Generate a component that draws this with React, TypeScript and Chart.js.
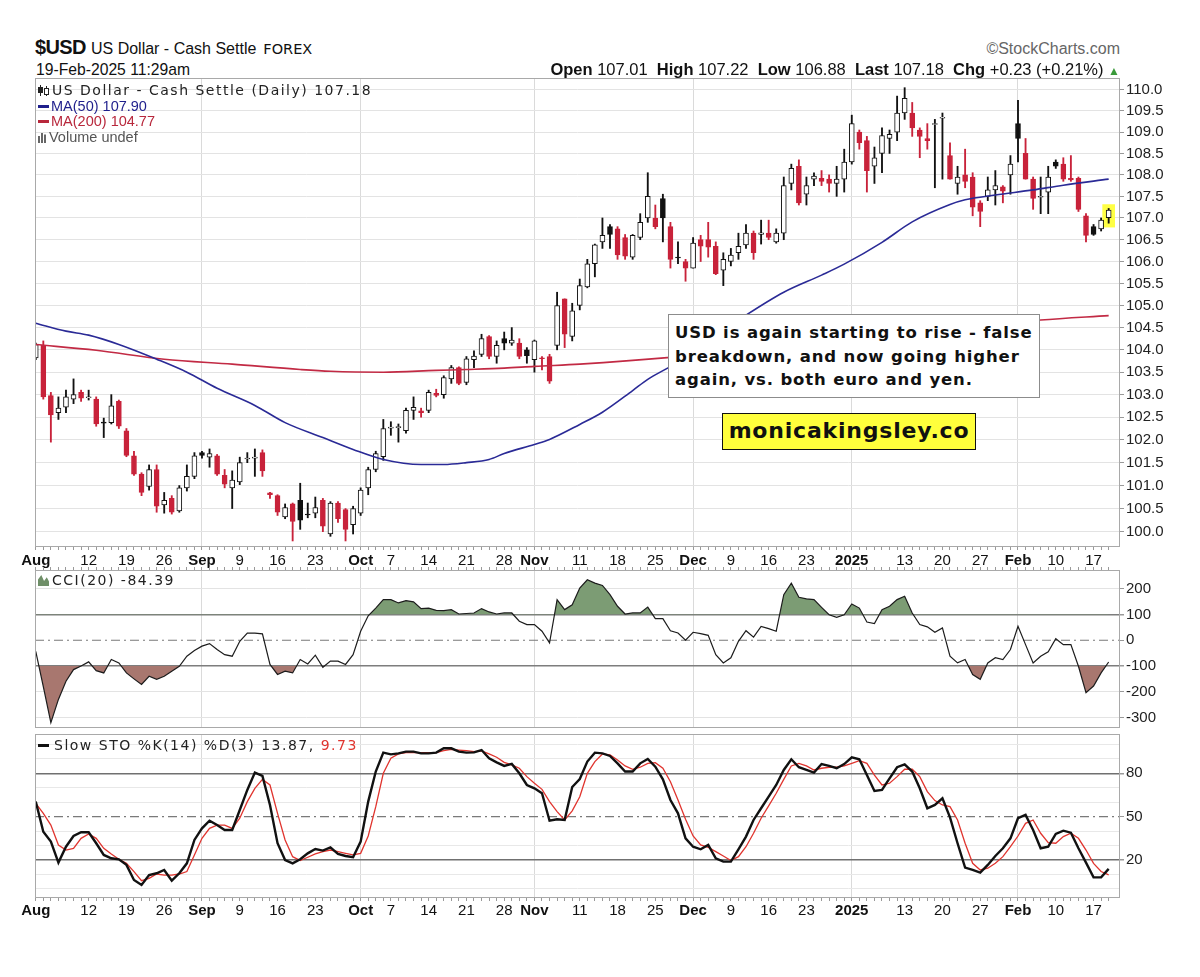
import React, { useEffect, useRef } from "react";
import { Chart, registerables } from "chart.js";

Chart.register(...registerables);

// ---------------- DATA ----------------
// Daily candles, 1-Aug-2024 .. 19-Feb-2025 (weekdays, 25-Dec and 1-Jan not traded)
const openP = [
  103.82, 104.1, 102.98, 102.6, 102.72, 102.9, 103.05, 102.93, 102.9, 102.39,
  102.38, 102.85, 102.2, 101.65, 101.25, 100.98, 101.35, 100.58, 100.72, 100.45,
  100.95, 101.2, 101.72, 101.62, 101.65, 101.22, 100.95, 101.08, 101.58, 101.6,
  101.72, 100.84, 100.78, 100.32, 100.6, 100.68, 100.38, 100.4, 100.68, 99.95,
  100.62, 100.48, 100.15, 100.4, 100.95, 101.35, 101.63, 102.26, 102.27, 102.2,
  102.65, 102.64, 102.65, 103.03, 103.0, 103.35, 103.6, 103.27, 103.78, 103.9,
  104.3, 103.85, 104.25, 104.15, 104.15, 104.0, 103.78, 103.82, 103.85, 104.1,
  105.15, 104.3, 105.0, 105.42, 105.95, 106.45, 106.8, 106.75, 106.55, 106.1,
  106.55, 107.0, 107.0, 107.45, 106.8, 106.1, 106.0, 105.85, 106.5, 106.5,
  106.35, 105.8, 106.0, 106.2, 106.38, 106.65, 106.62, 106.65, 106.45, 106.65,
  107.8, 108.2, 107.55, 107.9, 107.92, 107.9, 107.8, 107.9, 108.3, 109.0,
  108.8, 108.2, 108.5, 108.85, 109.0, 109.45, 109.45, 109.05, 108.85, 109.18,
  109.33, 108.45, 107.8, 108.0, 107.95, 107.35, 107.5, 107.65, 107.72, 108.0,
  109.2, 108.5, 107.9, 107.48, 107.6, 108.3, 108.25, 107.92, 107.92, 107.05,
  106.8, 106.75, 107.01,
];
const highP = [
  104.15, 104.2, 103.05, 102.95, 103.1, 103.35, 103.1, 103.1, 102.95, 102.48,
  103.0, 102.88, 102.25, 101.75, 101.28, 101.45, 101.45, 100.85, 100.78, 101.0,
  101.45, 101.72, 101.75, 101.8, 101.68, 101.35, 101.32, 101.62, 101.72, 101.8,
  101.78, 100.85, 100.8, 100.6, 100.62, 101.05, 100.62, 100.75, 100.72, 100.65,
  100.65, 100.5, 100.55, 100.95, 101.4, 101.75, 102.45, 102.4, 102.35, 102.7,
  102.95, 102.7, 103.1, 103.12, 103.42, 103.65, 103.62, 103.85, 103.98, 104.35,
  104.32, 104.2, 104.4, 104.5, 104.25, 104.05, 104.22, 103.85, 103.9, 105.3,
  105.15, 105.05, 105.6, 106.05, 106.4, 107.0, 106.85, 106.8, 106.62, 106.62,
  107.1, 108.05, 107.3, 107.55, 106.9, 106.45, 106.05, 106.55, 106.6, 106.9,
  106.45, 106.2, 106.3, 106.65, 106.85, 106.7, 106.95, 106.95, 106.75, 107.95,
  108.25, 108.35, 107.95, 108.05, 108.1, 108.0, 108.2, 108.6, 109.4, 109.05,
  108.9, 108.65, 109.1, 109.05, 109.85, 110.05, 109.7, 109.1, 109.2, 109.3,
  109.45, 108.75, 108.2, 108.6, 108.05, 107.4, 107.95, 108.1, 107.75, 108.45,
  109.75, 108.85, 107.95, 107.95, 108.2, 108.35, 108.4, 108.45, 107.95, 107.1,
  106.85, 107.0, 107.22,
];
const lowP = [
  103.78, 102.9, 101.95, 102.45, 102.6, 102.8, 102.85, 102.88, 102.3, 102.05,
  102.35, 102.25, 101.63, 101.22, 100.78, 100.9, 100.42, 100.4, 100.38, 100.42,
  100.88, 101.15, 101.6, 101.4, 101.22, 100.95, 100.5, 101.02, 101.5, 101.2,
  101.2, 100.72, 100.35, 100.28, 99.8, 100.05, 100.3, 100.3, 100.0, 99.9,
  100.2, 99.8, 99.95, 100.35, 100.8, 101.3, 101.55, 102.1, 101.95, 102.15,
  102.45, 102.5, 102.6, 102.95, 102.92, 103.25, 103.22, 103.22, 103.6, 103.85,
  103.8, 103.7, 104.0, 104.1, 103.8, 103.7, 103.5, 103.55, 103.25, 104.0,
  104.05, 104.2, 104.9, 105.4, 105.65, 106.3, 106.3, 106.05, 106.05, 106.05,
  106.5, 106.9, 106.75, 106.45, 105.85, 105.95, 105.55, 105.85, 106.0, 106.1,
  105.7, 105.45, 105.9, 106.05, 106.3, 106.05, 106.4, 106.5, 106.42, 106.5,
  107.65, 107.3, 107.3, 107.75, 107.75, 107.6, 107.5, 107.6, 108.25, 108.6,
  107.6, 107.8, 108.05, 108.5, 108.8, 109.3, 108.9, 108.4, 108.6, 107.7,
  107.9, 107.9, 107.55, 107.7, 107.05, 106.8, 107.4, 107.3, 107.35, 107.55,
  108.3, 107.9, 107.2, 107.1, 107.1, 108.15, 107.85, 107.85, 107.15, 106.45,
  106.6, 106.7, 106.88,
];
const closeP = [
  104.12, 102.95, 102.55, 102.7, 102.95, 103.0, 102.92, 102.95, 102.35, 102.37,
  102.75, 102.3, 101.66, 101.25, 100.85, 101.35, 100.55, 100.68, 100.42, 100.95,
  101.2, 101.65, 101.66, 101.7, 101.25, 101.03, 101.12, 101.5, 101.6, 101.62,
  101.32, 100.8, 100.42, 100.52, 100.22, 100.25, 100.36, 100.52, 100.12, 100.62,
  100.28, 100.05, 100.5, 100.9, 101.35, 101.7, 102.25, 102.28, 102.29, 102.65,
  102.72, 102.6, 103.05, 102.98, 103.38, 103.6, 103.25, 103.8, 103.86, 104.25,
  103.85, 104.1, 104.15, 104.22, 103.85, 103.87, 104.2, 103.8, 103.3, 105.0,
  104.35, 104.88, 105.45, 105.95, 106.38, 106.6, 106.62, 106.15, 106.12, 106.6,
  106.9, 107.5, 106.8, 107.0, 106.05, 106.08, 105.85, 106.42, 106.35, 106.33,
  105.72, 106.05, 106.15, 106.35, 106.65, 106.2, 106.66, 106.55, 106.65, 107.75,
  108.15, 107.35, 107.75, 107.97, 107.85, 107.8, 107.9, 108.3, 109.2, 108.75,
  108.1, 108.4, 108.92, 108.95, 109.45, 109.8, 109.1, 108.9, 108.8, 109.2,
  109.35, 107.9, 107.95, 107.85, 107.25, 107.15, 107.65, 107.75, 107.62, 108.25,
  108.85, 107.9, 107.45, 107.5, 107.95, 108.2, 107.9, 107.88, 107.2, 106.6,
  106.62, 106.95, 107.18,
];

// Moving averages (candle index, value)
const ma50Idx = [0, 4, 7, 11, 16, 20, 24, 29, 33, 38, 42, 46, 51, 54, 57, 60, 62, 66, 68, 72, 75, 79, 81, 84, 88, 94, 99, 104, 107, 112, 116, 121, 123, 127, 132, 136, 142];
const ma50Val = [104.6, 104.42, 104.33, 104.12, 103.79, 103.5, 103.14, 102.76, 102.38, 102.05, 101.79, 101.57, 101.46, 101.46, 101.5, 101.57, 101.7, 101.9, 102.01, 102.34, 102.61, 103.09, 103.34, 103.63, 104.08, 104.78, 105.3, 105.69, 105.94, 106.44, 106.91, 107.31, 107.42, 107.53, 107.65, 107.76, 107.9];
const ma200Idx = [0, 8, 17, 26, 35, 39, 46, 53, 57, 62, 66, 72, 84, 133, 142];
const ma200Val = [104.12, 103.99, 103.79, 103.68, 103.56, 103.52, 103.5, 103.54, 103.56, 103.59, 103.63, 103.68, 103.83, 104.67, 104.77];

// CCI(20)
const cci = [
  -43, -180, -320, -230, -159, -114, -100, -84, -118, -127,
  -75, -88, -127, -150, -172, -140, -152, -140, -120, -101,
  -62, -40, -23, -13, -36, -56, -62, -4, 28, 28,
  25, -94, -133, -120, -127, -75, -92, -58, -105, -81,
  -81, -94, -56, 35, 95, 125, 158, 158, 145, 154,
  149, 123, 125, 116, 115, 119, 102, 104, 106, 123,
  110, 102, 106, 106, 74, 61, 61, 35, -10, 158,
  119, 138, 203, 235, 222, 213, 177, 132, 102, 106,
  106, 129, 84, 84, 37, 28, 0, 31, 26, 19,
  -56, -88, -68, -4, 37, 12, 54, 45, 35, 177,
  222, 167, 161, 158, 128, 99, 89, 99, 141, 125,
  71, 65, 119, 132, 158, 171, 106, 61, 52, 31,
  48, -62, -88, -75, -133, -152, -88, -68, -75, -36,
  54, -17, -88, -62, -45, 6, -17, -17, -101, -204,
  -178, -127, -84.39,
];

// Slow Stochastic %K(14) and %D(3)
const stoK = [
  60.4, 39.6, 32.7, 18.2, 29.2, 36.6, 39.2, 39.2, 31.6, 23.5,
  21.2, 20.5, 16.6, 6.2, 2.7, 9.6, 10.8, 13.1, 5.7, 10.8,
  17.7, 33.9, 41.9, 47.2, 44.2, 40.8, 40.8, 54.6, 68.5, 80.5,
  78.2, 58.1, 31.6, 20.0, 17.7, 20.5, 24.6, 27.6, 26.5, 28.8,
  24.2, 22.8, 21.9, 32.7, 60.4, 81.2, 94.3, 93.1, 93.8, 95.0,
  95.0, 93.8, 93.8, 94.3, 97.3, 97.3, 95.0, 94.3, 94.5, 96.1,
  90.4, 87.6, 85.1, 86.5, 80.0, 71.9, 69.6, 66.2, 47.2, 48.2,
  47.7, 70.5, 76.0, 88.1, 94.3, 93.8, 92.0, 86.9, 81.2, 81.2,
  86.9, 89.9, 84.6, 75.8, 61.5, 52.3, 35.0, 29.2, 27.4, 30.4,
  21.2, 18.9, 18.9, 27.4, 36.2, 47.7, 55.8, 63.9, 71.9, 82.3,
  89.7, 84.2, 82.3, 80.5, 86.4, 85.1, 83.5, 86.4, 91.1, 89.7,
  78.8, 67.8, 68.5, 76.5, 84.2, 86.2, 81.2, 69.6, 55.8, 58.1,
  62.7, 49.5, 31.6, 14.7, 13.1, 11.3, 16.6, 22.8, 28.1, 35.0,
  48.9, 51.2, 40.8, 28.1, 29.2, 38.0, 40.3, 38.9, 28.1, 18.2,
  8.0, 8.0, 13.87,
];
const stoD = [
  59.2, 52.3, 44.2, 30.4, 26.9, 28.1, 35.0, 38.0, 35.0, 28.1,
  24.2, 20.5, 17.7, 12.0, 5.7, 7.3, 10.3, 9.6, 9.6, 10.3,
  12.0, 23.5, 35.0, 41.9, 44.2, 44.2, 41.9, 48.9, 60.4, 69.6,
  75.8, 71.9, 52.3, 33.9, 22.3, 19.6, 21.9, 24.2, 25.8, 26.9,
  25.8, 24.6, 23.5, 24.6, 36.6, 56.9, 80.0, 90.4, 93.4, 94.3,
  94.3, 94.3, 94.3, 94.3, 95.7, 96.6, 96.1, 95.7, 95.0, 95.5,
  93.4, 91.1, 87.6, 85.8, 83.5, 77.7, 73.1, 68.9, 60.4, 53.5,
  47.7, 54.0, 63.8, 80.0, 88.1, 93.4, 92.7, 89.2, 85.1, 82.8,
  84.2, 86.9, 87.4, 83.5, 74.2, 61.5, 48.2, 36.6, 30.4, 28.8,
  25.8, 22.8, 19.6, 22.3, 29.2, 38.5, 48.9, 57.4, 66.2, 75.8,
  85.1, 86.9, 85.1, 82.3, 83.5, 84.2, 84.2, 85.1, 86.9, 88.8,
  86.9, 78.8, 71.9, 73.1, 77.7, 82.8, 82.8, 77.7, 67.3, 61.1,
  58.1, 56.9, 47.7, 31.6, 17.7, 13.1, 14.3, 17.7, 22.3, 29.2,
  36.6, 45.4, 47.7, 38.5, 32.0, 31.6, 36.2, 38.5, 35.0, 26.9,
  17.7, 12.0, 9.73,
];

// Axis ticks
const tickIdx = [0, 7, 12, 17, 22, 27, 32, 37, 43, 47, 52, 57, 62, 66, 72, 77, 82, 87, 92, 97, 102, 108, 115, 120, 125, 130, 135, 140];
const tickText = ["Aug", "12", "19", "26", "Sep", "9", "16", "23", "Oct", "7", "14", "21", "28", "Nov", "11", "18", "25", "Dec", "9", "16", "23", "2025", "13", "20", "27", "Feb", "10", "17"];
const monthIdx = [0, 22, 43, 66, 87, 108, 130];
const priceTicks = [100, 100.5, 101, 101.5, 102, 102.5, 103, 103.5, 104, 104.5, 105, 105.5, 106, 106.5, 107, 107.5, 108, 108.5, 109, 109.5, 110];
const cciTicks = [-300, -200, -100, 0, 100, 200];
const cciBands = [-100, 100];
const cciMid = 0;
const stoTicks = [0, 10, 20, 30, 40, 50, 60, 70, 80, 90, 100];
const stoLabeled = [20, 50, 80];
const stoBands = [20, 80];
const stoMid = 50;

// ---------------- STYLE ----------------
const FONT = "'Liberation Sans', Arial, sans-serif";
const VFONT = "'DejaVu Sans', Verdana, sans-serif";
const RED = "#c8223a";
const BLACK = "#111111";
const BLUE = "#2a2a96";
const MA200C = "#c22a44";
const GREEN = "#7c9c74";
const BROWN = "#a8776f";
const LIGHT = "#e3e3e3";
const X_MIN = -0.1;
const X_MAX = 143.5;

const frame = {
  id: "frame",
  afterDraw(chart: any) {
    const { ctx, chartArea: a } = chart;
    ctx.save();
    ctx.strokeStyle = "#a9a9a9";
    ctx.lineWidth = 1;
    ctx.strokeRect(Math.round(a.left) + 0.5, Math.round(a.top) + 0.5, Math.round(a.width) - 1, Math.round(a.height) - 1);
    ctx.restore();
  },
};

const xScale = (showLabels: boolean, height: number, pad: number, position: string) => ({
  type: "linear",
  position,
  min: X_MIN,
  max: X_MAX,
  offset: false,
  afterBuildTicks: (s: any) => {
    s.ticks = closeP.map((_, i) => ({ value: i }));
  },
  afterFit: (s: any) => {
    s.height = height;
    s.paddingLeft = 0;
    s.paddingRight = 0;
  },
  ticks: {
    display: showLabels,
    autoSkip: false,
    maxRotation: 0,
    minRotation: 0,
    padding: pad,
    color: "#111",
    font: (c: any) => ({ family: FONT, size: 15, weight: c.tick && monthIdx.includes(c.tick.value) ? "bold" : "normal" }),
    callback: (v: any) => {
      const k = tickIdx.indexOf(Number(v));
      return k >= 0 ? tickText[k] : "";
    },
  },
  grid: {
    offset: false,
    drawTicks: true,
    tickLength: 3,
    tickColor: "#9a9a9a",
    color: (c: any) => (c.tick && monthIdx.includes(c.tick.value) ? "#dadada" : "rgba(0,0,0,0)"),
  },
  border: { display: false },
});

const yRightFit = (s: any) => {
  s.width = 80;
  s.paddingTop = 0;
  s.paddingBottom = 0;
};

export default function App() {
  const mainRef = useRef<HTMLCanvasElement>(null);
  const cciRef = useRef<HTMLCanvasElement>(null);
  const stoRef = useRef<HTMLCanvasElement>(null);

  useEffect(() => {
    const n = closeP.length;
    const idx = closeP.map((_, i) => i);
    const col = closeP.map((c, i) => (i > 0 && c < closeP[i - 1] ? RED : BLACK));
    const fillC = closeP.map((c, i) => (c > openP[i] ? "#ffffff" : col[i]));
    const last = n - 1;

    const main = new Chart(mainRef.current as HTMLCanvasElement, {
      type: "bar",
      data: {
        datasets: [
          {
            type: "line",
            data: ma50Idx.map((x, i) => ({ x, y: ma50Val[i] })),
            borderColor: BLUE,
            borderWidth: 1.6,
            pointRadius: 0,
            cubicInterpolationMode: "monotone",
            order: 0,
          } as any,
          {
            type: "line",
            data: ma200Idx.map((x, i) => ({ x, y: ma200Val[i] })),
            borderColor: MA200C,
            borderWidth: 1.6,
            pointRadius: 0,
            cubicInterpolationMode: "monotone",
            order: 1,
          } as any,
          {
            type: "bar",
            data: idx.map((i) => ({ x: i, y: [openP[i], closeP[i]] })),
            backgroundColor: fillC,
            borderColor: col,
            borderWidth: 1,
            borderSkipped: false,
            barThickness: 5,
            grouped: false,
            order: 2,
          } as any,
          {
            type: "bar",
            data: idx.map((i) => ({ x: i, y: [lowP[i], highP[i]] })),
            backgroundColor: col,
            barThickness: 1.2,
            grouped: false,
            order: 3,
          } as any,
          {
            type: "bar",
            data: [{ x: last, y: [lowP[last] - 0.09, highP[last] + 0.09] }],
            backgroundColor: "#ffff44",
            barThickness: 12,
            grouped: false,
            order: 4,
          } as any,
        ],
      },
      options: {
        responsive: false,
        maintainAspectRatio: false,
        animation: false,
        layout: { padding: { left: 35, right: 0, top: 0, bottom: 0 } },
        plugins: { legend: { display: false }, tooltip: { enabled: false } },
        scales: {
          x: xScale(true, 22, 2, "bottom") as any,
          y: {
            type: "logarithmic",
            position: "right",
            min: 99.67,
            max: 110.28,
            afterBuildTicks: (s: any) => {
              s.ticks = priceTicks.map((v) => ({ value: v }));
            },
            afterFit: yRightFit,
            ticks: {
              autoSkip: false,
              padding: 2,
              color: "#222",
              font: { family: FONT, size: 15 },
              callback: (v: any) => Number(v).toFixed(1),
            },
            grid: { color: LIGHT, tickColor: "#999", tickLength: 4 },
            border: { display: false },
          } as any,
        },
      },
      plugins: [frame],
    });

    const cciPts = cci.map((v, i) => ({ x: i, y: v }));
    const cciChart = new Chart(cciRef.current as HTMLCanvasElement, {
      type: "line",
      data: {
        datasets: [
          {
            data: cciPts,
            borderColor: "#1c1c1c",
            borderWidth: 1.2,
            pointRadius: 0,
            fill: { target: { value: cciBands[1] }, above: GREEN, below: "rgba(0,0,0,0)" },
            order: 0,
          } as any,
          {
            data: cciPts,
            borderColor: "rgba(0,0,0,0)",
            borderWidth: 0,
            pointRadius: 0,
            fill: { target: { value: cciBands[0] }, above: "rgba(0,0,0,0)", below: BROWN },
            order: 1,
          } as any,
          {
            data: [
              { x: X_MIN, y: cciMid },
              { x: X_MAX, y: cciMid },
            ],
            borderColor: "#7a7a7a",
            borderWidth: 1.2,
            borderDash: [9, 4, 2, 4],
            pointRadius: 0,
            fill: false,
            order: 2,
          } as any,
        ],
      },
      options: {
        responsive: false,
        maintainAspectRatio: false,
        animation: false,
        layout: { padding: { left: 35, right: 0, top: 0, bottom: 0 } },
        plugins: { legend: { display: false }, tooltip: { enabled: false } },
        scales: {
          x: xScale(false, 4, 0, "top") as any,
          y: {
            type: "linear",
            position: "right",
            min: -341,
            max: 273,
            afterBuildTicks: (s: any) => {
              s.ticks = cciTicks.map((v) => ({ value: v }));
            },
            afterFit: yRightFit,
            ticks: { autoSkip: false, padding: 2, color: "#222", font: { family: FONT, size: 15 } },
            grid: {
              color: (c: any) => (c.tick && cciBands.includes(c.tick.value) ? "#7d7d7d" : c.tick && c.tick.value === cciMid ? "rgba(0,0,0,0)" : LIGHT),
              lineWidth: (c: any) => (c.tick && cciBands.includes(c.tick.value) ? 1.5 : 1),
              tickColor: "#999",
              tickLength: 4,
            },
            border: { display: false },
          } as any,
        },
      },
      plugins: [frame],
    });

    const stoChart = new Chart(stoRef.current as HTMLCanvasElement, {
      type: "line",
      data: {
        datasets: [
          {
            data: stoK.map((v, i) => ({ x: i, y: v })),
            borderColor: "#111",
            borderWidth: 2.4,
            pointRadius: 0,
            fill: false,
            order: 0,
          } as any,
          {
            data: stoD.map((v, i) => ({ x: i, y: v })),
            borderColor: "#e0342e",
            borderWidth: 1.3,
            pointRadius: 0,
            fill: false,
            order: 1,
          } as any,
          {
            data: [
              { x: X_MIN, y: stoMid },
              { x: X_MAX, y: stoMid },
            ],
            borderColor: "#7a7a7a",
            borderWidth: 1.2,
            borderDash: [9, 4, 2, 4],
            pointRadius: 0,
            fill: false,
            order: 2,
          } as any,
        ],
      },
      options: {
        responsive: false,
        maintainAspectRatio: false,
        animation: false,
        layout: { padding: { left: 35, right: 0, top: 0, bottom: 0 } },
        plugins: { legend: { display: false }, tooltip: { enabled: false } },
        scales: {
          x: xScale(true, 26, 1, "bottom") as any,
          y: {
            type: "linear",
            position: "right",
            min: -6.3,
            max: 107.2,
            afterBuildTicks: (s: any) => {
              s.ticks = stoTicks.map((v) => ({ value: v }));
            },
            afterFit: yRightFit,
            ticks: {
              autoSkip: false,
              padding: 2,
              color: "#222",
              font: { family: FONT, size: 15 },
              callback: (v: any) => (stoLabeled.includes(Number(v)) ? String(v) : ""),
            },
            grid: {
              color: (c: any) => (c.tick && stoBands.includes(c.tick.value) ? "#707070" : c.tick && c.tick.value === stoMid ? "rgba(0,0,0,0)" : "#e8e8e8"),
              lineWidth: (c: any) => (c.tick && stoBands.includes(c.tick.value) ? 1.5 : 1),
              tickColor: (c: any) => (c.tick && stoLabeled.includes(c.tick.value) ? "#999" : "rgba(0,0,0,0)"),
              tickLength: 4,
            },
            border: { display: false },
          } as any,
        },
      },
      plugins: [frame],
    });

    return () => {
      main.destroy();
      cciChart.destroy();
      stoChart.destroy();
    };
  }, []);

  const abs = (left: number, top: number, extra: any = {}) => ({ position: "absolute" as const, left, top, whiteSpace: "nowrap" as const, ...extra });
  const maIcon = (c: string) => (
    <span style={{ display: "inline-block", width: 11, height: 3, background: c, verticalAlign: "middle", marginRight: 2, marginTop: -2 }} />
  );
  const legendFont = { fontFamily: VFONT, fontSize: 14, letterSpacing: 1.5, lineHeight: "16px", color: "#222" };

  return (
    <div style={{ position: "absolute", left: 0, top: 0, width: 1200, height: 977, background: "#fff", overflow: "hidden", fontFamily: FONT, color: "#111" }}>
      <canvas ref={mainRef} width={1200} height={491} style={{ position: "absolute", left: 0, top: 78, width: 1200, height: 491 }} />
      <canvas ref={cciRef} width={1200} height={162} style={{ position: "absolute", left: 0, top: 566, width: 1200, height: 162 }} />
      <canvas ref={stoRef} width={1200} height={190} style={{ position: "absolute", left: 0, top: 734, width: 1200, height: 190 }} />

      {/* header */}
      <div style={abs(35, 36, { display: "flex", alignItems: "baseline", lineHeight: "22px" })}>
        <span style={{ fontSize: 20, fontWeight: "bold", letterSpacing: -0.6 }}>$USD</span>
        <span style={{ fontSize: 16, marginLeft: 5 }}>US Dollar - Cash Settle</span>
        <span style={{ fontSize: 14.5, marginLeft: 7, fontFamily: VFONT }}>FOREX</span>
      </div>
      <div style={abs(36, 61, { fontSize: 15.7, lineHeight: "17px" })}>19-Feb-2025 11:29am</div>
      <div style={{ position: "absolute", right: 80, top: 40, fontSize: 16, color: "#666", lineHeight: "17px", whiteSpace: "nowrap" }}>©StockCharts.com</div>
      <div style={{ position: "absolute", right: 80, top: 60, fontSize: 16.5, lineHeight: "18px", whiteSpace: "pre" }}>
        <b>Open</b> 107.01{"  "}<b>High</b> 107.22{"  "}<b>Low</b> 106.88{"  "}<b>Last</b> 107.18{"  "}<b>Chg</b> +0.23 (+0.21%) <span style={{ color: "#3a9a3a", fontSize: 12 }}>▲</span>
      </div>

      {/* main legend */}
      <div style={abs(38, 82, legendFont)}>
        <span style={{ display: "inline-block", position: "relative", width: 11, height: 11, marginRight: 3, verticalAlign: "-1px" }}>
          <span style={{ position: "absolute", left: 2, top: 0, width: 1, height: 11, background: "#222" }} />
          <span style={{ position: "absolute", left: 0, top: 2, width: 5, height: 6, background: "#222" }} />
          <span style={{ position: "absolute", left: 8, top: 1, width: 1, height: 10, background: "#222" }} />
          <span style={{ position: "absolute", left: 6, top: 3, width: 3, height: 5, border: "1px solid #222", background: "#fff" }} />
        </span>
        US Dollar - Cash Settle (Daily) 107.18
      </div>
      <div style={abs(38, 98, { fontSize: 14.5, lineHeight: "16px", color: "#1f1f8c" })}>{maIcon("#1f1f8c")}MA(50) 107.90</div>
      <div style={abs(38, 113, { fontSize: 14.5, lineHeight: "16px", color: "#b8283c" })}>{maIcon("#b8283c")}MA(200) 104.77</div>
      <div style={abs(38, 129, { fontSize: 14.5, lineHeight: "16px", color: "#555" })}>
        <span style={{ display: "inline-block", width: 10, height: 10, marginRight: 1, verticalAlign: "-1px", background: "linear-gradient(90deg,#666 0 2px,#fff 2px 3px,#666 3px 5px,#fff 5px 6px,#666 6px 8px,#fff 8px 10px)", clipPath: "polygon(0 30%,25% 30%,25% 0,55% 0,55% 15%,85% 15%,85% 50%,100% 50%,100% 100%,0 100%)" }} />
        Volume undef
      </div>

      {/* CCI legend */}
      <div style={abs(38, 572, legendFont)}>
        <span style={{ display: "inline-block", width: 11, height: 11, marginRight: 3, verticalAlign: "-1px", background: "#6f8f68", clipPath: "polygon(0 100%,0 40%,30% 0,55% 55%,80% 20%,100% 60%,100% 100%)" }} />
        CCI(20) -84.39
      </div>

      {/* STO legend */}
      <div style={abs(38, 737, legendFont)}>
        <span style={{ display: "inline-block", width: 11, height: 3, background: "#111", verticalAlign: "middle", marginRight: 5, marginTop: -2 }} />
        Slow STO %K(14) %D(3) 13.87, <span style={{ color: "#e0342e" }}>9.73</span>
      </div>

      {/* annotations */}
      <div
        style={{
          position: "absolute",
          left: 668,
          top: 314,
          width: 372,
          height: 84,
          boxSizing: "border-box",
          border: "1.5px solid #8c8c8c",
          background: "#fff",
          padding: "6px 0 0 6px",
          fontFamily: VFONT,
          fontWeight: "bold",
          fontSize: 16.5,
          letterSpacing: 0.85,
          lineHeight: "23.5px",
          color: "#111",
          whiteSpace: "nowrap",
        }}
      >
        USD is again starting to rise - false
        <br />
        breakdown, and now going higher
        <br />
        again, vs. both euro and yen.
      </div>
      <div
        style={{
          position: "absolute",
          left: 722,
          top: 413,
          width: 254,
          height: 37,
          boxSizing: "border-box",
          border: "1.5px solid #111",
          background: "#ffff3c",
          fontFamily: VFONT,
          fontWeight: "bold",
          fontSize: 22,
          letterSpacing: 0.8,
          lineHeight: "34px",
          textAlign: "center",
          color: "#111",
          whiteSpace: "nowrap",
        }}
      >
        monicakingsley.co
      </div>
    </div>
  );
}
